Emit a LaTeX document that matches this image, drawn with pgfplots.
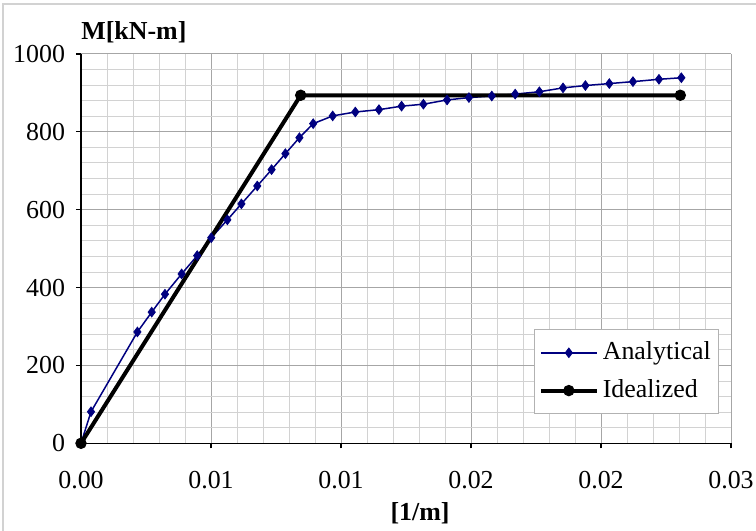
\documentclass[border=0pt]{standalone}
\usepackage{pgfplots}
\pgfplotsset{compat=1.18}
\usepackage{fontspec}
\setmainfont{Liberation Serif}
\definecolor{anblue}{HTML}{000080}

\begin{document}
\fontsize{13}{15}\selectfont
\begin{tikzpicture}
\useasboundingbox (0,0) rectangle (378bp,265.5bp);
\draw[gray!35, line width=0.6bp] (1.5bp,0) -- (1.5bp,263.5bp) -- (380bp,263.5bp);
\begin{axis}[
   name=ax, scale only axis,
   width=325bp, height=194.65bp,
   at={(40.5bp,43.85bp)}, anchor=south west,
   xmin=0, xmax=0.025, ymin=0, ymax=1000,
   xtick={0,0.005,0.01,0.015,0.02,0.025},
   xticklabels={0.00,0.01,0.01,0.02,0.02,0.03},
   scaled x ticks=false,
   ytick={0,200,400,600,800,1000},
   minor x tick num=4, minor y tick num=4,
   grid=both,
   major grid style={gray!70, line width=0.5bp},
   minor grid style={gray!35, line width=0.5bp},
   axis x line*=bottom, axis y line*=left,
   axis line style={-, line width=0.6bp, black},
   tick align=outside, major tick length=2.5bp, minor tick length=0pt,
   tick style={black, line width=0.6bp},
   /pgf/number format/assume math mode=true,
   /pgf/number format/1000 sep={},
   ticklabel style={font=\fontsize{13}{15}\selectfont},
   xticklabel style={yshift=-7bp},
   yticklabel style={xshift=-1bp},
   legend style={at={(0.982,0.075)}, anchor=south east, draw=gray!60,
     line width=0.6bp, font=\fontsize{13}{15}\selectfont,
     inner xsep=2bp, inner ysep=4bp, row sep=4bp},
   legend cell align=left,
   legend image code/.code={\draw[mark repeat=2,mark phase=2,#1] plot coordinates {(0bp,0bp)(14bp,0bp)(28bp,0bp)};},
]
\addplot[anblue, line width=0.75bp, mark=diamond*, mark size=2.4bp,
  mark options={fill=anblue, line width=0.4bp}] coordinates {
(0,0) (0.000385,81) (0.00217,286) (0.00272,337) (0.00323,383) (0.00387,435)
(0.00447,482) (0.00501,528) (0.00563,574) (0.00617,615) (0.00678,661)
(0.00733,703) (0.00786,744) (0.0084,785) (0.00893,821) (0.00968,841)
(0.01055,851) (0.01146,857) (0.01233,866) (0.01317,871) (0.01408,882)
(0.01492,888) (0.0158,892) (0.0167,897) (0.01763,903) (0.01854,913)
(0.0194,919) (0.02032,924) (0.02123,929) (0.02223,935) (0.02309,939)
};
\addlegendentry{Analytical}
\addplot[black, line width=2bp, mark=*, mark size=2.6bp,
  mark options={line width=0.5bp}] coordinates {
(0,0) (0.00845,894) (0.02305,894)
};
\addlegendentry{Idealized}
\end{axis}
\node[anchor=west, inner sep=0pt, font=\bfseries] at ([yshift=11bp]ax.north west) {M[kN-m]};
\node[inner sep=0pt, font=\bfseries] at ([xshift=169.5bp,yshift=-35bp]ax.south west) {[1/m]};
\end{tikzpicture}
\end{document}
